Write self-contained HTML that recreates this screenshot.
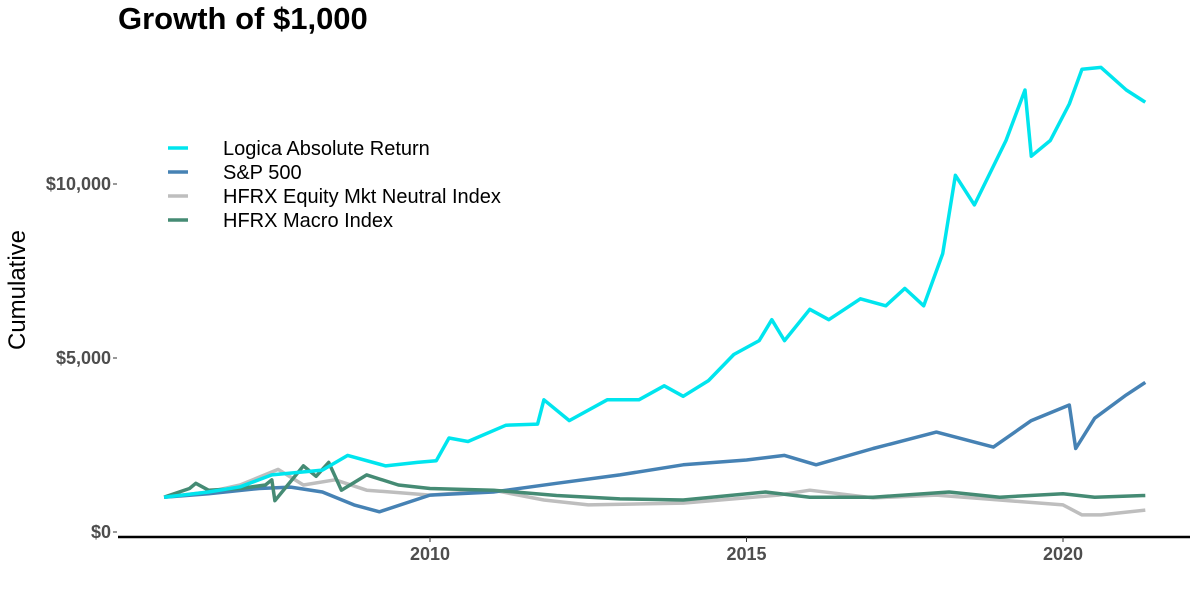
<!DOCTYPE html>
<html><head><meta charset="utf-8"><style>
body{margin:0;background:#fff;}
svg text{font-family:"Liberation Sans",sans-serif;}
</style></head><body>
<svg id="chart" width="1200" height="600" xmlns="http://www.w3.org/2000/svg">
<text x="118" y="29" font-size="31" font-weight="bold" fill="#000">Growth of $1,000</text>
<text transform="translate(25,290) rotate(-90)" text-anchor="middle" font-size="24" fill="#000">Cumulative</text>
<line x1="118" y1="537" x2="1190" y2="537" stroke="#000" stroke-width="2.5"/>
<g id="yaxis"></g>
<g id="xaxis"></g>
<g id="series"></g>
<g id="legend"></g>
</svg>
<script>
const yTicks=[0,5000,10000];
const yTickLabels=["$0","$5,000","$10,000"];
const xTicks=[2010,2015,2020];
const seriesNames=["Logica Absolute Return","S&P 500","HFRX Equity Mkt Neutral Index","HFRX Macro Index"];
const logicaT=[2005.8,2006.5,2007,2007.5,2008.3,2008.7,2009.3,2009.8,2010.1,2010.3,2010.6,2011.2,2011.7,2011.8,2012.2,2012.8,2013.3,2013.7,2014,2014.4,2014.8,2015.2,2015.4,2015.6,2016,2016.3,2016.8,2017.2,2017.5,2017.8,2018.1,2018.3,2018.6,2019.1,2019.4,2019.5,2019.8,2020.1,2020.3,2020.6,2021.0,2021.3];
const logicaV=[1000,1150,1300,1640,1780,2200,1900,2000,2050,2700,2600,3070,3100,3800,3200,3800,3800,4200,3900,4350,5100,5500,6100,5500,6400,6100,6700,6500,7000,6500,8000,10250,9400,11250,12700,10800,11250,12300,13300,13350,12700,12350];
const spT=[2005.8,2006.5,2007.3,2007.8,2008.3,2008.8,2009.2,2010,2011,2012,2013,2014,2015,2015.6,2016.1,2017,2018,2018.9,2019.5,2020.1,2020.2,2020.5,2021,2021.3];
const spV=[1000,1100,1250,1290,1150,780,580,1060,1150,1400,1640,1930,2070,2200,1930,2400,2870,2440,3200,3650,2400,3270,3940,4300];
const emnT=[2005.8,2006.5,2007.0,2007.6,2008,2008.5,2009,2010,2011,2011.8,2012.5,2014,2015.5,2016,2017,2018,2019,2020,2020.3,2020.6,2021.3];
const emnV=[1000,1150,1350,1800,1350,1500,1200,1060,1200,920,780,830,1060,1200,980,1060,920,780,490,490,630];
const macT=[2005.8,2006.2,2006.3,2006.5,2007.0,2007.4,2007.5,2007.55,2008,2008.2,2008.4,2008.6,2009,2009.5,2010,2011,2012,2013,2014,2015.3,2016,2017,2018.2,2019,2020,2020.5,2021.3];
const macV=[1000,1250,1400,1200,1250,1350,1500,900,1900,1600,2000,1200,1640,1350,1250,1200,1050,950,920,1150,1000,1000,1150,1000,1100,1000,1050];
const colors=["#00E5EE","#4682B4","#BEBEBE","#458B74"];
const NS="http://www.w3.org/2000/svg";
function xs(t){return 430+(t-2010)*63.3;}
function ys(v){return 532-v*174/5000;}
const ya=document.getElementById('yaxis');
yTicks.forEach((v,i)=>{
 const l=document.createElementNS(NS,'line');
 
 
 l.setAttribute('x1',113);l.setAttribute('x2',117);l.setAttribute('y1',ys(v));l.setAttribute('y2',ys(v));l.setAttribute('stroke','#333');
 ya.appendChild(l);
 const t=document.createElementNS(NS,'text');
 
 
 t.setAttribute('x',111);t.setAttribute('y',ys(v)+6);t.setAttribute('text-anchor','end');t.setAttribute('font-size','18');t.setAttribute('font-weight','bold');t.setAttribute('fill','#4d4d4d');
 t.textContent=yTickLabels[i];ya.appendChild(t);
});
const xa=document.getElementById('xaxis');
xTicks.forEach(v=>{
 const l=document.createElementNS(NS,'line');
 
 
 l.setAttribute('x1',xs(v));l.setAttribute('x2',xs(v));l.setAttribute('y1',537);l.setAttribute('y2',542);l.setAttribute('stroke','#333');
 xa.appendChild(l);
 const t=document.createElementNS(NS,'text');
 
 
 t.setAttribute('x',xs(v));t.setAttribute('y',560);t.setAttribute('text-anchor','middle');t.setAttribute('font-size','18');t.setAttribute('font-weight','bold');t.setAttribute('fill','#4d4d4d');
 t.textContent=v;xa.appendChild(t);
});
const sg=document.getElementById('series');
const data=[[emnT,emnV],[spT,spV],[macT,macV],[logicaT,logicaV]];
const cidx=[2,1,3,0];
const names=['emn-line','sp500-line','macro-line','logica-line'];
data.forEach((d,k)=>{
 const p=document.createElementNS(NS,'path');
 
 
 p.setAttribute('d',d[0].map((t,i)=>(i?'L':'M')+xs(t).toFixed(1)+','+ys(d[1][i]).toFixed(1)).join(''));
 p.setAttribute('fill','none');p.setAttribute('stroke',colors[cidx[k]]);p.setAttribute('stroke-width','3.5');p.setAttribute('stroke-linejoin','round');
 sg.appendChild(p);
});
const lg=document.getElementById('legend');
seriesNames.forEach((n,i)=>{
 const y=148+i*24;
 const l=document.createElementNS(NS,'line');
 
 
 l.setAttribute('x1',168);l.setAttribute('x2',188);l.setAttribute('y1',y);l.setAttribute('y2',y);l.setAttribute('stroke',colors[i]);l.setAttribute('stroke-width','3.5');
 lg.appendChild(l);
 const t=document.createElementNS(NS,'text');
 
 
 t.setAttribute('x',223);t.setAttribute('y',y+7);t.setAttribute('font-size','20');t.setAttribute('fill','#000');
 t.textContent=n;lg.appendChild(t);
});
</script>
</body></html>
